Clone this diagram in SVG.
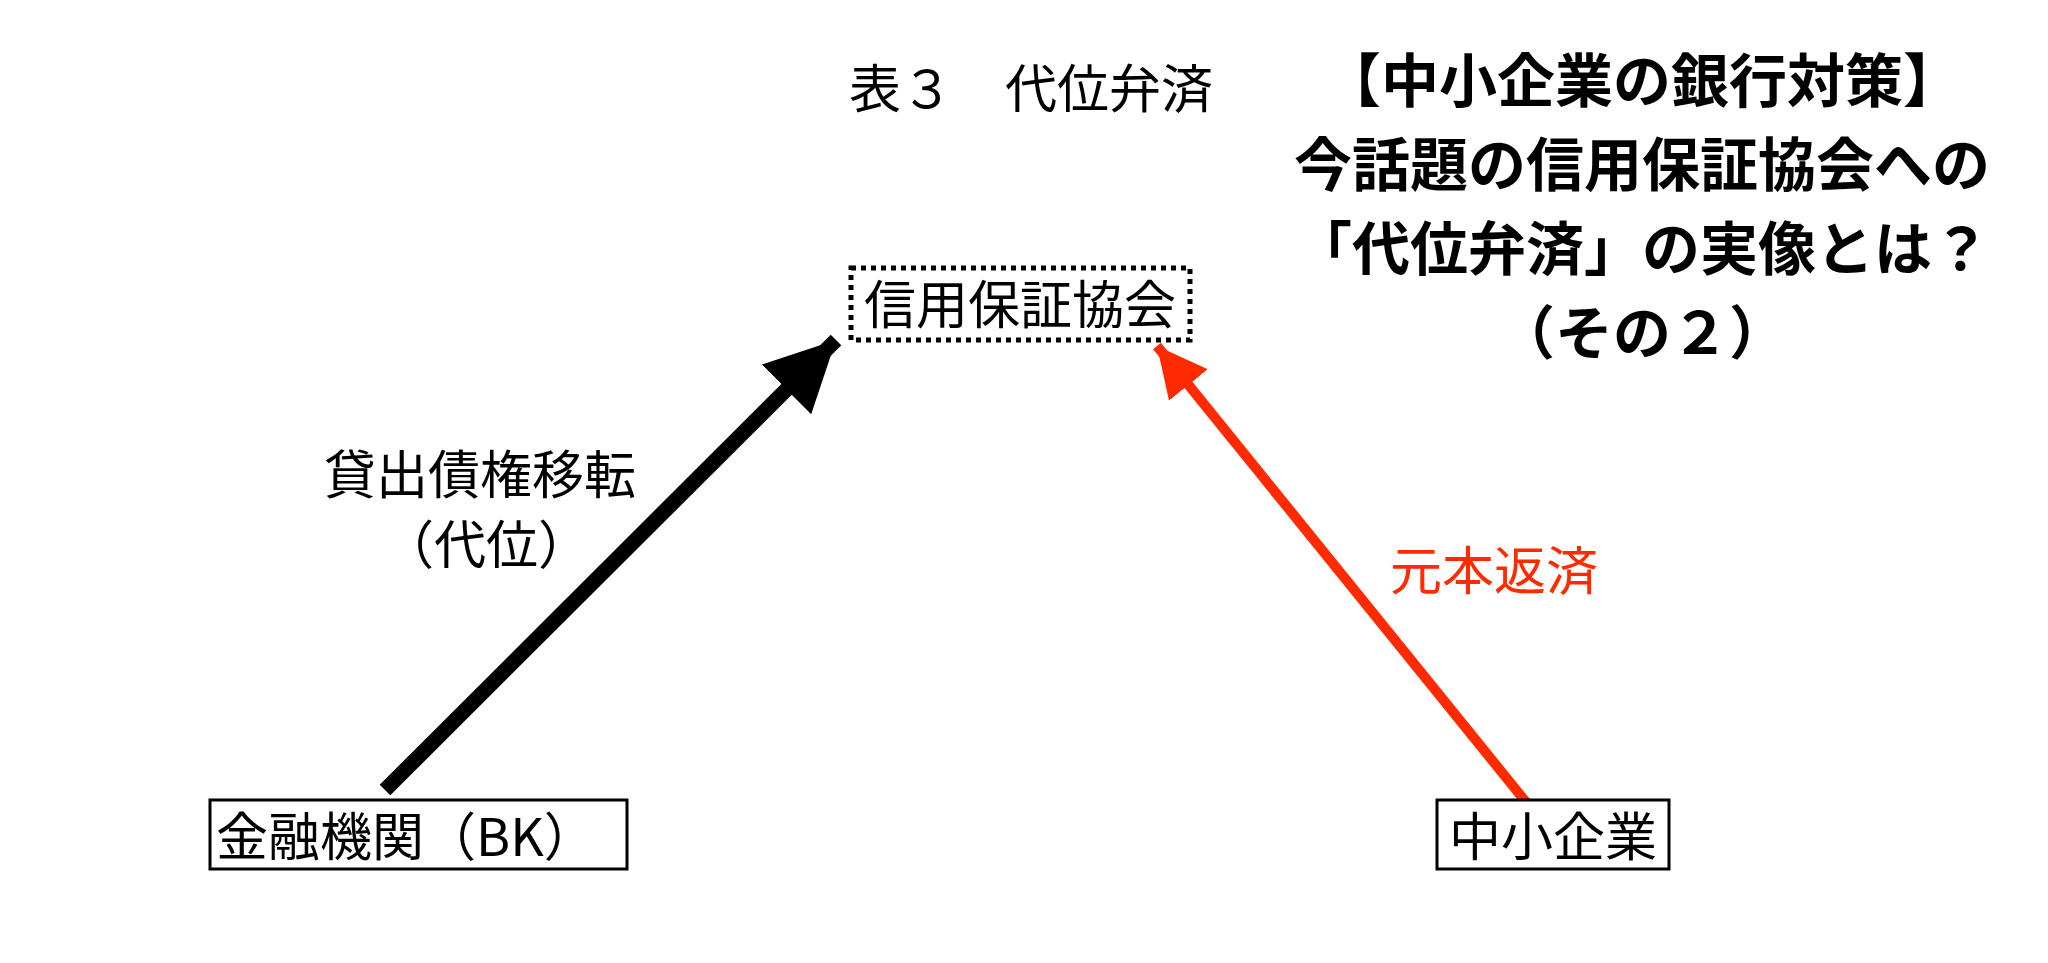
<svg xmlns="http://www.w3.org/2000/svg" width="2048" height="963" viewBox="0 0 2048 963">
<style>
text{font-family:"Noto Sans CJK JP","Liberation Sans",sans-serif;fill:#000}
.n{font-size:52px}
.t{font-size:58px;font-weight:bold;text-anchor:middle}
.box{fill:#fff;stroke:#000;stroke-width:3}
</style>
<defs>
<marker id="ab" markerUnits="userSpaceOnUse" markerWidth="80" markerHeight="80" refX="70" refY="35" orient="auto"><path d="M0,0 L70,35 L0,70 Z" fill="#000"/></marker>
<marker id="ar" markerUnits="userSpaceOnUse" markerWidth="60" markerHeight="60" refX="50" refY="25" orient="auto"><path d="M0,0 L50,25 L0,50 Z" fill="#ff2a00"/></marker>
</defs>
<rect width="2048" height="963" fill="#fff"/>
<g id="caption"><text class="n" x="849" y="108" font-size="48">表３　代位弁済</text></g>
<g id="title">
<text class="t" x="1642" y="102">【中小企業の銀行対策】</text>
<text class="t" x="1642" y="186">今話題の信用保証協会への</text>
<text class="t" x="1642" y="270">「代位弁済」の実像とは？</text>
<text class="t" x="1642" y="354">（その２）</text>
</g>
<g id="connectors">
<line x1="385" y1="790" x2="836" y2="340" stroke="#000" stroke-width="15" marker-end="url(#ab)"/>
<line x1="1534" y1="812" x2="1157" y2="346" stroke="#ff2a00" stroke-width="10" marker-end="url(#ar)"/>
<text class="n" x="324" y="494">貸出債権移転</text>
<text class="n" x="486" y="564" text-anchor="middle">（代位）</text>
<text class="n" x="1494" y="590" text-anchor="middle" style="fill:#ff2a00">元本返済</text>
</g>
<g id="hoshokyokai">
<rect x="851" y="268" width="339" height="72" fill="none" stroke="#000" stroke-width="5" stroke-dasharray="5,5"/>
<text class="n" x="1020" y="324" text-anchor="middle">信用保証協会</text>
</g>
<g id="bank">
<rect class="box" x="210" y="800" width="417" height="69"/>
<text class="n" x="216" y="856">金融機関（BK）</text>
</g>
<g id="sme">
<rect class="box" x="1437" y="800" width="232" height="69"/>
<text class="n" x="1553" y="856" text-anchor="middle">中小企業</text>
</g>
</svg>
